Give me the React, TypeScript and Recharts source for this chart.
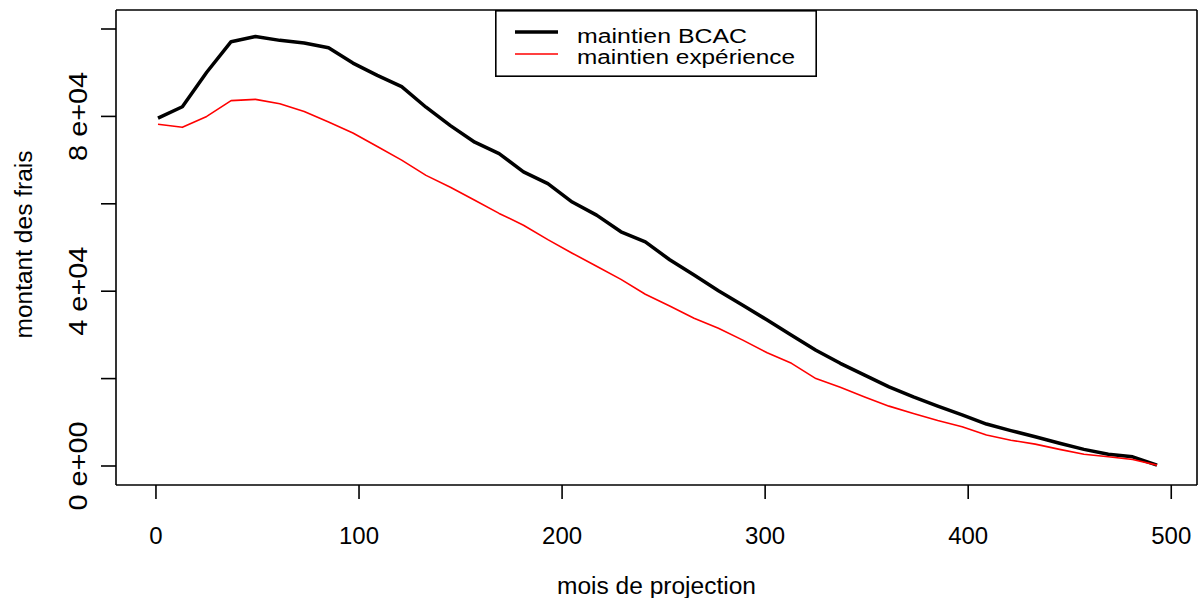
import React from 'react';
import { LineChart, Line, XAxis, YAxis, Legend } from 'recharts';

// months of projection (one point every 12 months)
const months = [
  1, 13, 25, 37, 49, 61, 73, 85, 97, 109, 121, 133, 145, 157, 169, 181, 193, 205, 217, 229, 241,
  253, 265, 277, 289, 301, 313, 325, 337, 349, 361, 373, 385, 397, 409, 421, 433, 445, 457, 469,
  481, 493,
];

// maintien BCAC
const bcac = [
  79600, 82200, 90100, 97100, 98300, 97400, 96800, 95700, 92200, 89400, 86800, 82100, 77900,
  74100, 71500, 67300, 64600, 60400, 57400, 53600, 51300, 47200, 43700, 40100, 36800, 33400,
  29900, 26500, 23500, 20800, 18100, 15800, 13700, 11700, 9600, 8100, 6700, 5200, 3800, 2700,
  2100, 200,
];

// maintien expérience
const experience = [
  78200, 77500, 80000, 83600, 83900, 82900, 81100, 78700, 76200, 73100, 70000, 66500, 63800,
  60800, 57800, 55100, 51800, 48700, 45700, 42700, 39300, 36600, 33800, 31500, 28800, 25900,
  23500, 20000, 18000, 15800, 13700, 12000, 10400, 9000, 7100, 5900, 5000, 3800, 2700, 2100,
  1500, 200,
];

const xTicks = [0, 100, 200, 300, 400, 500];
const yTicks = [0, 20000, 40000, 60000, 80000, 100000];
const yTickLabels = ['0 e+00', '', '4 e+04', '', '8 e+04', ''];

const seriesNames = ['maintien BCAC', 'maintien expérience'];
const seriesColors = ['#000000', '#ff0000'];

const data = months.map((m, i) => ({ month: m, bcac: bcac[i], experience: experience[i] }));

const FONT = '"Liberation Sans", Arial, Helvetica, sans-serif';
const xDomain = [-19.68, 512.68];
const yDomain = [-4348, 104348];
const boxLine = { stroke: '#000', strokeWidth: 1.6 };

const XTick = (props: any) => {
  const { x, y, payload } = props;
  return (
    <text x={x} y={y + 45} textAnchor="middle" fontFamily={FONT} fontSize={24} fill="#000">
      {payload.value}
    </text>
  );
};

const YTick = (props: any) => {
  const { x, y, payload } = props;
  const idx = yTicks.indexOf(payload.value);
  const label = idx >= 0 ? yTickLabels[idx] : '';
  if (!label) return <g />;
  const cx = x - 14;
  return (
    <text
      x={cx}
      y={y}
      transform={`rotate(-90, ${cx}, ${y})`}
      textAnchor="middle"
      fontFamily={FONT}
      fontSize={26}
      textLength={89}
      lengthAdjust="spacingAndGlyphs"
      fill="#000"
    >
      {label}
    </text>
  );
};

const XTitle = (props: any) => {
  const vb = props.viewBox || { x: 116, y: 485, width: 1081, height: 113 };
  return (
    <text
      x={vb.x + vb.width / 2}
      y={vb.y + 109}
      textAnchor="middle"
      fontFamily={FONT}
      fontSize={23}
      textLength={199}
      lengthAdjust="spacingAndGlyphs"
      fill="#000"
    >
      mois de projection
    </text>
  );
};

const YTitle = (props: any) => {
  const vb = props.viewBox || { x: 0, y: 10, width: 116, height: 475 };
  const cx = vb.x + 32;
  const cy = vb.y + vb.height / 2 - 3;
  return (
    <text
      x={cx}
      y={cy}
      transform={`rotate(-90, ${cx}, ${cy})`}
      textAnchor="middle"
      fontFamily={FONT}
      fontSize={23}
      textLength={188}
      lengthAdjust="spacingAndGlyphs"
      fill="#000"
    >
      montant des frais
    </text>
  );
};

const LegendBox = () => (
  <svg width={322} height={67} style={{ display: 'block' }}>
    <rect x={0.8} y={0.8} width={320.4} height={65.4} fill="#fff" stroke="#000" strokeWidth={1.6} />
    {seriesNames.map((name, i) => (
      <g key={name}>
        <line
          x1={20}
          x2={63}
          y1={22 + i * 22}
          y2={22 + i * 22}
          stroke={seriesColors[i]}
          strokeWidth={i === 0 ? 3.5 : 1.6}
        />
        <text
          x={82}
          y={33 + i * 21}
          fontFamily={FONT}
          fontSize={20}
          textLength={i === 0 ? 170 : 218}
          lengthAdjust="spacingAndGlyphs"
          fill="#000"
        >
          {name}
        </text>
      </g>
    ))}
  </svg>
);

export default function App() {
  return (
    <div style={{ position: 'absolute', left: 0, top: 0, width: 1200, height: 598, background: '#fff' }}>
      <LineChart width={1200} height={598} data={data} margin={{ top: 9, right: 2, bottom: 0, left: 0 }}>
        <XAxis
          dataKey="month"
          type="number"
          domain={xDomain}
          ticks={xTicks}
          interval={0}
          allowDataOverflow
          height={113}
          tickSize={14}
          tickMargin={0}
          axisLine={boxLine}
          tickLine={boxLine}
          tick={<XTick />}
          label={{ content: <XTitle /> }}
        />
        <XAxis
          xAxisId="top"
          orientation="top"
          dataKey="month"
          type="number"
          domain={xDomain}
          ticks={xTicks}
          allowDataOverflow
          height={1}
          tick={false}
          tickLine={false}
          axisLine={boxLine}
        />
        <YAxis
          type="number"
          domain={yDomain}
          ticks={yTicks}
          interval={0}
          allowDataOverflow
          width={116}
          tickSize={15}
          tickMargin={0}
          axisLine={boxLine}
          tickLine={boxLine}
          tick={<YTick />}
          label={{ content: <YTitle /> }}
        />
        <YAxis
          yAxisId="right"
          orientation="right"
          type="number"
          domain={yDomain}
          ticks={yTicks}
          allowDataOverflow
          width={1}
          tick={false}
          tickLine={false}
          axisLine={boxLine}
        />
        <Legend
          layout="horizontal"
          verticalAlign="middle"
          align="center"
          wrapperStyle={{ left: 495, top: 10, width: 322, height: 67 }}
          content={<LegendBox />}
        />
        <Line
          type="linear"
          dataKey="bcac"
          name={seriesNames[0]}
          stroke={seriesColors[0]}
          strokeWidth={3.5}
          strokeLinejoin="round"
          dot={false}
          activeDot={false}
          isAnimationActive={false}
        />
        <Line
          type="linear"
          dataKey="experience"
          name={seriesNames[1]}
          stroke={seriesColors[1]}
          strokeWidth={1.6}
          strokeLinejoin="round"
          dot={false}
          activeDot={false}
          isAnimationActive={false}
        />
      </LineChart>
    </div>
  );
}
